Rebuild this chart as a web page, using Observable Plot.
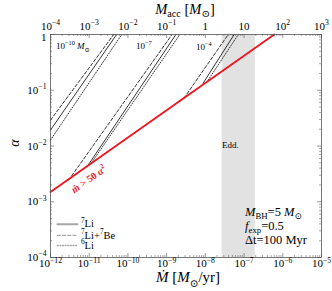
<!DOCTYPE html>
<html><head><meta charset="utf-8">
<script src="https://cdn.jsdelivr.net/npm/d3@7"></script>
<script src="https://cdn.jsdelivr.net/npm/@observablehq/plot@0.6"></script>
<style>html,body{margin:0;padding:0;background:#fff} svg{display:block}</style>
</head><body><div id="chart"></div>
<script>
// ---------- data ----------
const xTicks = [1e-12, 1e-11, 1e-10, 1e-9, 1e-8, 1e-7, 1e-6, 1e-5];
const xTickLabels = ["10^{−12}", "10^{−11}", "10^{−10}", "10^{−9}", "10^{−8}", "10^{−7}", "10^{−6}", "10^{−5}"];
const topTickLabels = ["10^{−4}", "10^{−3}", "10^{−2}", "10^{−1}", "1", "10", "10^{2}", "10^{3}"];
const yTicks = [1e-4, 1e-3, 1e-2, 1e-1, 1];
const yTickLabels = ["10^{−4}", "10^{−3}", "10^{−2}", "10^{−1}", "1"];

// [Mdot, alpha] end points of each constraint line (groups: 1e-10, 1e-7, 1e-4 Msun)
const li7Lines = [
  [[1e-12, 0.0193], [5.1e-11, 1]],
  [[9.1e-12, 4.4e-3], [1.74e-9, 1]],
  [[8.7e-9, 0.133], [5.56e-8, 1]]
];
const li7Be7Lines = [
  [[1e-12, 0.0291], [4.3e-11, 1]],
  [[2.95e-12, 2.45e-3], [1.38e-9, 1]],
  [[2.8e-9, 0.072], [3.9e-8, 1]]
];
const li6Lines = [
  [[1e-12, 0.0128], [6.9e-11, 1]],
  [[1.1e-11, 4.8e-3], [2.19e-9, 1]],
  [[1.17e-8, 0.151], [7.1e-8, 1]]
];
const redLine = [[1e-12, 1.5e-3], [6.0e-7, 1]];
const eddBand = [2.7e-8, 1.95e-7];

const legendLabels = ["^{7}Li", "^{7}Li+^{7}Be", "^{6}Li"];
const groupLabels = ["10^{−10} *M*_{⊙}", "10^{−7}", "10^{−4}"];
const paramLabels = ["*M*_{BH}=5 *M*_{⊙}", "*f*_{exp}=0.5", "Δt=100 Myr"];

// ---------- layout ----------
const W = 332, H = 291;
const mL = 50, mR = 11, mT = 34, mB = 34;
const innerH = H - mT - mB, innerW = W - mL - mR;
const frameColor = "#555";

const rows = [];
[[li7Lines, "solid"], [li7Be7Lines, "dashed"], [li6Lines, "dotted"]].forEach(([set, style]) => {
  set.forEach((pts, g) => pts.forEach(p => rows.push({x: p[0], y: p[1], z: style + g, style})));
});
const dashFor = {solid: null, dashed: "3.2,2", dotted: "1,1.6"};

// minor ticks (layout only)
const minorX = [], minorY = [];
for (let e = -12; e < -5; e++) for (let k = 2; k <= 9; k++) minorX.push(k * 10 ** e);
for (let e = -4; e < 0; e++) for (let k = 2; k <= 9; k++) minorY.push(k * 10 ** e);

const bottomMap = new Map(xTicks.map((t, i) => [t, xTickLabels[i]]));
const topMap = new Map(xTicks.map((t, i) => [t, topTickLabels[i]]));
const yMap = new Map(yTicks.map((t, i) => [t, yTickLabels[i]]));

const legendY = [3.96e-4, 2.5e-4, 1.64e-4];
const legendX = [1.5e-12, 5.0e-12, 6.3e-12];
const legendStyles = ["solid", "dashed", "dotted"];
const legendRows = [];
legendStyles.forEach((s, i) => {
  legendRows.push({x: legendX[0], y: legendY[i], z: s, style: s});
  legendRows.push({x: legendX[1], y: legendY[i], z: s, style: s});
});

const plot = Plot.plot({
  width: W, height: H,
  marginLeft: mL, marginRight: mR, marginTop: mT, marginBottom: mB,
  x: {type: "log", domain: [1e-12, 1e-5], axis: null},
  y: {type: "log", domain: [1e-4, 1], axis: null},
  style: {fontFamily: "'Liberation Serif','DejaVu Serif',serif", fontSize: "11px", background: "#fff", color: "#000"},
  marks: [
    Plot.rect([eddBand], {x1: d => d[0], x2: d => d[1], y1: 1e-4, y2: 1, fill: "#e2e2e2"}),
    ...legendStyles.map(s => Plot.line(legendRows.filter(r => r.style === s), {
      x: "x", y: "y", z: "z", stroke: "#a8a8a8",
      strokeWidth: s === "solid" ? 2 : 1.3, strokeDasharray: dashFor[s]
    })),
    ...legendStyles.map(s => Plot.line(rows.filter(r => r.style === s), {
      x: "x", y: "y", z: "z", stroke: "#000", strokeWidth: 0.8, strokeDasharray: dashFor[s]
    })),
    Plot.line(redLine, {x: d => d[0], y: d => d[1], stroke: "#f0141e", strokeWidth: 1.8}),
    // inward ticks
    Plot.tickX(xTicks, {x: d => d, insetTop: innerH - 4, stroke: frameColor, strokeWidth: 0.6}),
    Plot.tickX(xTicks, {x: d => d, insetBottom: innerH - 4, stroke: frameColor, strokeWidth: 0.6}),
    Plot.tickX(minorX, {x: d => d, insetTop: innerH - 2, stroke: frameColor, strokeWidth: 0.5}),
    Plot.tickX(minorX, {x: d => d, insetBottom: innerH - 2, stroke: frameColor, strokeWidth: 0.5}),
    Plot.tickY(yTicks, {y: d => d, insetRight: innerW - 4, stroke: frameColor, strokeWidth: 0.6}),
    Plot.tickY(yTicks, {y: d => d, insetLeft: innerW - 4, stroke: frameColor, strokeWidth: 0.6}),
    Plot.tickY(minorY, {y: d => d, insetRight: innerW - 2, stroke: frameColor, strokeWidth: 0.5}),
    Plot.tickY(minorY, {y: d => d, insetLeft: innerW - 2, stroke: frameColor, strokeWidth: 0.5}),
    Plot.frame({stroke: frameColor, strokeWidth: 0.8}),
    Plot.axisX({anchor: "bottom", ticks: xTicks, tickFormat: d => bottomMap.get(d), tickSize: 0, tickPadding: 2, label: null, fontSize: 11}),
    Plot.axisX({anchor: "top", ticks: xTicks, tickFormat: d => topMap.get(d), tickSize: 0, tickPadding: 5, label: null, fontSize: 11}),
    Plot.axisY({anchor: "left", ticks: yTicks, tickFormat: d => yMap.get(d), tickSize: 0, tickPadding: 4, label: null, fontSize: 11})
  ]
});
document.getElementById("chart").appendChild(plot);

// ---------- rich text helpers ----------
function addItalic(sel, s) {
  s.split(/(\*[^*]*\*)/).filter(p => p !== "").forEach(p => {
    if (p.startsWith("*") && p.endsWith("*") && p.length > 1) sel.append("tspan").attr("font-style", "italic").text(p.slice(1, -1));
    else sel.append("tspan").text(p);
  });
}
function rich(el, str, base, subShift = 0.3, supShift = 0.42) {
  const t = d3.select(el);
  t.text(null);
  const parts = str.split(/(\^\{[^}]*\}|_\{[^}]*\})/).filter(s => s !== "");
  let offset = 0;
  for (const p of parts) {
    let kind = "n", s = p;
    if (p.startsWith("^{")) { kind = "sup"; s = p.slice(2, -1); }
    else if (p.startsWith("_{")) { kind = "sub"; s = p.slice(2, -1); }
    const target = kind === "sup" ? -supShift * base : kind === "sub" ? subShift * base : 0;
    const ts = t.append("tspan").attr("dy", target - offset);
    offset = target;
    if (kind !== "n") ts.attr("font-size", (0.7 * base) + "px");
    addItalic(ts, s);
  }
}

const svg = d3.select(plot.tagName.toLowerCase() === "svg" ? plot : plot.querySelector("svg"));
svg.selectAll("text").each(function () {
  const s = this.textContent;
  if (/\^\{|_\{|\*/.test(s)) rich(this, s, 11);
});
// nudge the y-axis "1" label slightly below its tick, as in the reference
svg.selectAll('g[aria-label="y-axis tick label"] text').each(function () {
  if (this.textContent === "1") {
    const tr = this.getAttribute("transform") || "";
    this.setAttribute("transform", (tr + " translate(0,2.5)").trim());
  }
});

const sx = plot.scale("x"), sy = plot.scale("y");
function addText(str, x, y, opts = {}) {
  const size = opts.size || 11;
  const t = svg.append("text")
    .attr("font-family", "'Liberation Serif','DejaVu Serif',serif")
    .attr("font-size", size + "px")
    .attr("fill", opts.fill || "#000")
    .attr("text-anchor", opts.anchor || "start")
    .attr("transform", `translate(${x},${y})` + (opts.rotate ? ` rotate(${opts.rotate})` : ""))
    .attr("y", 0.35 * size);
  if (opts.weight) t.attr("font-weight", opts.weight);
  rich(t.node(), str, size, opts.subShift ?? 0.3, opts.supShift ?? 0.42);
  return t;
}

// group labels (data coordinates)
const groupPos = [[1.43e-12, 0.61], [1.67e-10, 0.61], [5.9e-9, 0.585]];
groupLabels.forEach((s, i) => addText(s, sx.apply(groupPos[i][0]), sy.apply(groupPos[i][1]), {size: 9}));
// Eddington label
addText("Edd.", sx.apply(2.77e-8), sy.apply(0.0102), {size: 9});
// red relation label
addText("*ṁ* > 50 *α*^{2}", sx.apply(1.0e-11), sy.apply(2.5e-3), {size: 10, fill: "#f0141e", anchor: "middle", rotate: -35, weight: "bold"});
// legend labels
legendLabels.forEach((s, i) => addText(s, sx.apply(legendX[2]), sy.apply(legendY[i]), {size: 10.5}));
// parameter block
const paramY = [6.4e-4, 3.6e-4, 2.02e-4];
paramLabels.forEach((s, i) => addText(s, sx.apply(1.09e-7), sy.apply(paramY[i]), {size: 12.5, subShift: 0.18}));

// axis titles
addText("*M*_{acc} [*M*_{⊙}]", 185, 9, {size: 14.5, anchor: "middle", subShift: 0.18});
addText("*Ṁ* [*M*_{⊙}/yr]", 188, 277, {size: 15, anchor: "middle"});
addText("*α*", 14, 143, {size: 14, anchor: "middle", rotate: -90});
</script>
</body></html>
